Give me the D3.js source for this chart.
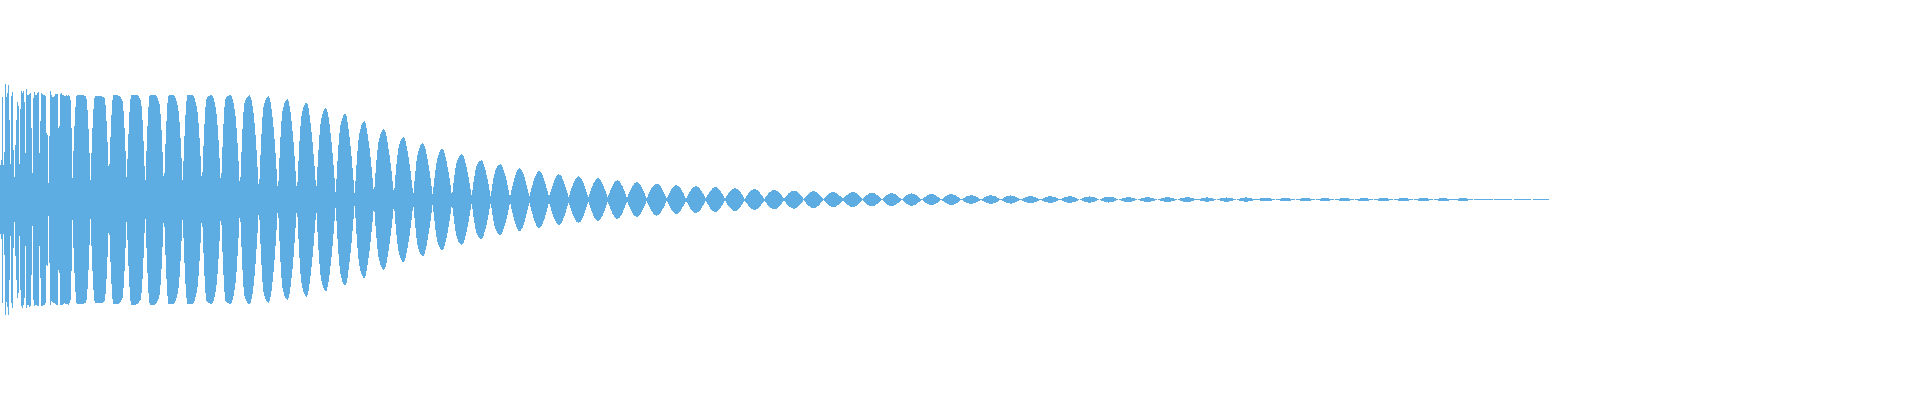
<!DOCTYPE html>
<html>
<head>
<meta charset="utf-8">
<script src="https://cdn.jsdelivr.net/npm/d3@7"></script>
<style>
  html, body { margin: 0; padding: 0; background: #ffffff; }
  svg { display: block; }
</style>
</head>
<body>
<svg id="chart" width="1920" height="400"></svg>
<script>
// ---------- DATA (x in sample columns, levels in % of full scale) ----------
// Attack: per-column peak levels of the first 73 columns (top / bottom halves)
const headTop = [17.1,19.9,51.3,17.3,23.8,57.8,51.3,53.3,57.3,39.8,
  17.8,51.8,53.8,24.8,11.3,27.3,39.8,48.8,46.8,17.8,
  45.3,54.3,53.3,54.3,48.8,23.3,55.3,52.3,52.3,52.8,
  53.3,35.8,13.3,50.8,53.8,52.3,52.3,53.3,53.8,23.3,
  39.3,53.3,52.8,52.3,52.3,51.8,33.3,32.3,8.3,31.8,
  54.3,52.3,51.3,51.3,51.8,52.8,52.8,52.8,35.8,36.8,
  52.8,53.3,52.3,52.3,51.8,51.8,52.3,51.8,52.3,51.8,
  49.8,35.8,10.8];
const headBottom = [17.3,19.6,51.8,17.3,27.8,57.8,51.3,53.8,57.8,40.3,
  18.3,51.8,54.3,24.3,11.3,28.3,40.3,49.3,46.8,18.3,
  45.3,53.3,54.3,52.8,49.3,23.3,54.3,52.8,52.8,53.8,
  53.3,37.8,13.3,50.3,53.3,52.8,52.8,53.3,53.3,23.3,
  39.3,53.3,53.3,52.8,52.8,51.8,32.8,33.3,8.3,31.8,
  52.8,50.8,51.3,51.8,51.8,52.3,52.8,52.8,35.3,36.8,
  52.8,52.8,52.8,52.3,51.8,52.3,52.3,52.3,52.8,51.8,
  50.3,35.8,10.3];

// Decay: beat lobes between successive nodes
const lobeNodes = [72.5,90.5,109,126.7,145.3,164,182.7,202,221,240,
  259,278,297,316.3,335.7,354.7,374,394,413.3,432.7,
  452,471.7,490.7,510,529.3,549,568.7,588.3,607.7,627,
  646.7,666.7,686,705.7,725,744.7,764.3,784,803.7,823.3,
  843,862.5,881.7,901.7,921.7,941.3,961.3,981,1000.7,1020.7,
  1040.3,1060,1079.7,1099.3,1118.5,1137.7,1157.5,1177.3,1197,1216.7,
  1236.3,1256,1275.7,1295.7,1315.3,1334.7,1354.2,1373.8,1393.7,1413.5,
  1433.3,1453,1473,1493.3,1513,1532.2,1549.5];
const lobeFloors = [10.5,9.8,10.5,9,6.5,5.8,8,6.8,5.8,4.3,
  3.5,2.8,2.8,4.8,2.8,2,2.8,2.5,2.2,2,
  1.7,1.5,1.5,1.3,1.3,1.2,1.2,1,1,0.8,
  0.6,0.6,0.5,0.5,0.5,0.4,0.4,0.4,0.3,0.3,
  0.3,0.2,0,0,0,0,0,0,0,0,
  0,0,0,0,0,0,0,0,0,0,
  0,0,0,0,0,0,0,0,0,0,
  0,0,0,0,0,0,0];
const lobePeaks = [52.5,52,52.3,52.6,52.6,52.3,52.3,52.3,52.3,52.3,
  51.8,50.3,48.6,45.8,43.1,39.3,35.3,31.3,28.3,25.3,
  22.8,19.8,17.8,15.8,14.3,12.8,11.8,10.8,9.8,8.8,
  8.1,7.3,6.8,6.3,5.8,5.3,4.9,4.6,4.3,3.8,
  3.8,3.4,3.25,3.1,2.75,2.75,2.25,2.25,2.1,1.9,
  1.75,1.75,1.6,1.5,1.25,1.25,1.25,1.25,1.1,1.1,
  1.1,0.9,0.75,0.75,0.75,0.75,0.75,0.75,0.75,0.75,
  0.75,0.7,0.45,0.45,0.45,0.4];
// levels read at the first and third quarter of the early lobes
const lobeShoulders = [[52.5,51.5],[52,51],[52.3,49.8],[52.6,50],[52.6,48.3],
  [52.3,46.4],[52.3,45],[51,44],[51,43],[49,40],
  [47,38],[45,36],[43,34],[40,32],[37,29.5],
  [33.5,27],[30,24],[26.5,21.5],[24,19.5],[21,17.5],
  [19,15.8],[16.5,13.8],[14.8,12.3]];

// ---------- CHART ----------
const W = 1920, H = 400;
const COLOR = "#5dade2";
const svg = d3.select("#chart");

const x = d3.scaleLinear().domain([0, 1920]).range([0, W]);
const y = d3.scaleLinear().domain([-100, 100]).range([399.2, 0]);

const g = svg.append("g").attr("shape-rendering", "crispEdges").attr("fill", COLOR);

// attack columns
g.selectAll("rect.head")
  .data(headTop.map((t, i) => ({ i, t, b: headBottom[i] })))
  .join("rect")
  .attr("class", "head")
  .attr("x", d => x(d.i))
  .attr("width", d => x(d.i + 1) - x(d.i))
  .attr("y", d => y(d.t))
  .attr("height", d => y(-d.b) - y(d.t));

// decay lobes
const lobes = lobePeaks.map((p, i) => {
  const t0 = lobeNodes[i], t1 = lobeNodes[i + 1];
  const pts = [{ t: t0, a: lobeFloors[i] }];
  const sh = lobeShoulders[i];
  if (sh) pts.push({ t: t0 + (t1 - t0) / 4, a: sh[0] });
  pts.push({ t: (t0 + t1) / 2, a: p });
  if (sh) pts.push({ t: t0 + 3 * (t1 - t0) / 4, a: sh[1] });
  pts.push({ t: t1, a: lobeFloors[i + 1] });
  return pts;
});

const area = d3.area()
  .x(d => x(d.t))
  .y0(d => y(-d.a))
  .y1(d => y(d.a))
  .curve(d3.curveMonotoneX);

g.selectAll("path.lobe")
  .data(lobes)
  .join("path")
  .attr("class", "lobe")
  .attr("d", area);
</script>
</body>
</html>
